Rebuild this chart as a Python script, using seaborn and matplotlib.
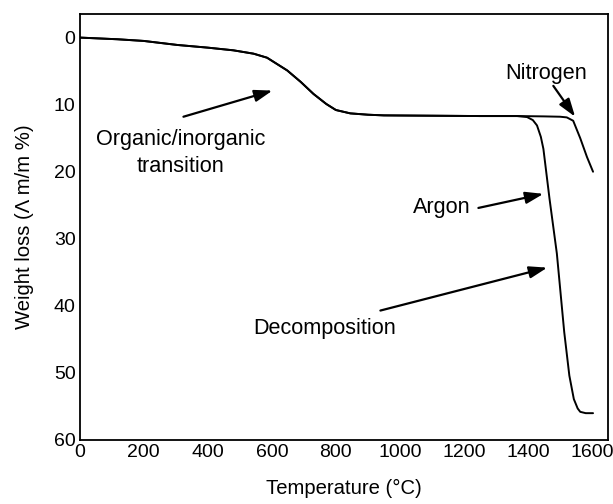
import matplotlib
matplotlib.use("Agg")
import matplotlib.pyplot as plt
from matplotlib.ticker import MultipleLocator
import numpy as np
import pandas as pd
import seaborn as sns

# Shared part of the thermogram (both atmospheres)
temp_common = [0, 118, 200, 305, 400, 480, 543, 585, 648, 690, 730, 770, 800,
               845, 900, 950, 1100, 1250, 1366]
loss_common = [0, 0.25, 0.5, 1.1, 1.5, 1.9, 2.4, 3.0, 4.9, 6.6, 8.4, 9.9, 10.8,
               11.3, 11.5, 11.6, 11.65, 11.7, 11.7]

# High-temperature branch under argon
temp_argon = [1397, 1415, 1428, 1440, 1448, 1467, 1490, 1513, 1529, 1543,
              1555, 1563, 1580, 1603]
loss_argon = [11.85, 12.3, 13.1, 14.8, 16.6, 24.0, 32.2, 43.9, 50.4, 53.9,
              55.3, 55.8, 56.0, 56.0]

# High-temperature branch under nitrogen
temp_nitrogen = [1400, 1450, 1500, 1521, 1541, 1563, 1584, 1603]
loss_nitrogen = [11.72, 11.75, 11.8, 11.9, 12.4, 15.0, 17.8, 20.0]

x_ticks = [0, 200, 400, 600, 800, 1000, 1200, 1400, 1600]
y_ticks = [0, 10, 20, 30, 40, 50, 60]

sns.set_theme(style="white")
plt.rcParams["font.family"] = ["Liberation Sans", "DejaVu Sans"]
plt.rcParams["text.color"] = "black"
TICK_FS = 14.0
LABEL_FS = 14.6
NOTE_FS = 15.6

df = pd.concat([
    pd.DataFrame({"T": temp_common + temp_argon,
                  "loss": loss_common + loss_argon, "gas": "Argon"}),
    pd.DataFrame({"T": temp_common + temp_nitrogen,
                  "loss": loss_common + loss_nitrogen, "gas": "Nitrogen"}),
])

fig = plt.figure(figsize=(6.13, 5.04), dpi=100)
ax = fig.add_axes([0.130, 0.127, 0.862, 0.845])

sns.lineplot(data=df, x="T", y="loss", units="gas", estimator=None,
             color="black", linewidth=1.4, sort=False, ax=ax, legend=False)

ax.set_xlim(0, 1650)
ax.set_ylim(60, -3.5)
ax.set_xticks(x_ticks)
ax.set_yticks(y_ticks)
ax.xaxis.set_minor_locator(MultipleLocator(100))
ax.yaxis.set_minor_locator(MultipleLocator(5))
ax.tick_params(axis="both", which="major", direction="in", length=5,
               width=1.2, color="black", labelsize=TICK_FS,
               labelcolor="black", pad=3)
ax.tick_params(axis="both", which="minor", direction="in", length=3,
               width=1.0, color="black")
for s in ax.spines.values():
    s.set_color("black")
    s.set_linewidth(1.3)

ax.set_xlabel("Temperature (°C)", fontsize=LABEL_FS, color="black",
              labelpad=13)
ax.set_ylabel("Weight loss (Λ m/m %)", fontsize=LABEL_FS, color="black",
              labelpad=14)

arrow = dict(arrowstyle="-|>,head_length=0.9,head_width=0.3", color="black",
             lw=1.6, shrinkA=0, shrinkB=0)
ax.annotate("", xy=(602, 7.9), xytext=(324, 11.8), arrowprops=arrow)
ax.text(315, 17.2, "Organic/inorganic\ntransition", fontsize=NOTE_FS,
        ha="center", va="center", linespacing=1.4)

ax.annotate("", xy=(1547, 11.8), xytext=(1479, 7.2), arrowprops=arrow)
ax.text(1458, 5.3, "Nitrogen", fontsize=NOTE_FS, ha="center", va="center")

ax.annotate("", xy=(1448, 23.3), xytext=(1245, 25.4), arrowprops=arrow)
ax.text(1130, 25.4, "Argon", fontsize=NOTE_FS, ha="center", va="center")

ax.annotate("", xy=(1460, 34.3), xytext=(939, 40.7), arrowprops=arrow)
ax.text(765, 43.4, "Decomposition", fontsize=NOTE_FS, ha="center",
        va="center")

fig.savefig("out.png", dpi=100, facecolor="white")
